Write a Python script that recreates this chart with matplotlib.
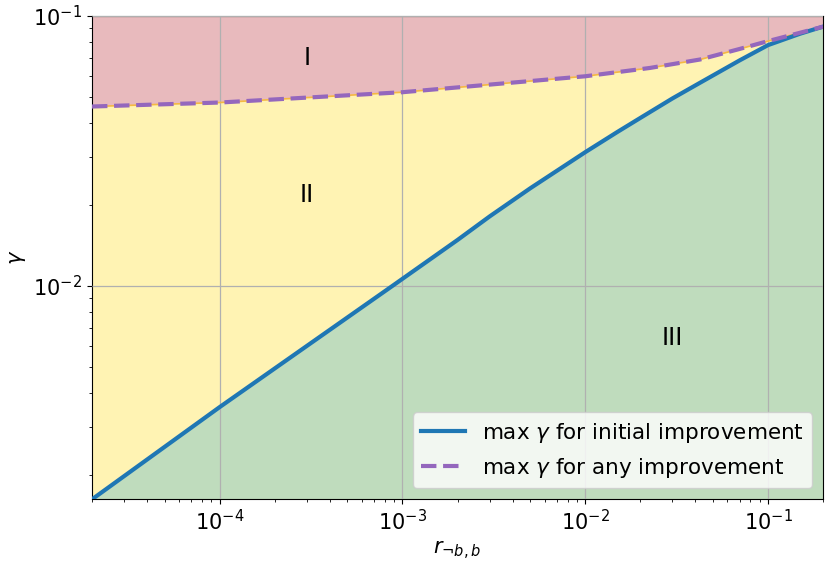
import matplotlib
matplotlib.use("Agg")
import matplotlib.pyplot as plt
import numpy as np

# Values
r_blue = [2e-5, 1e-4, 8.8e-4, 2e-3, 3e-3, 5e-3, 1e-2, 1.5e-2, 2e-2, 3e-2, 4.25e-2, 7e-2, 1e-1, 1.5e-1, 2e-1]
g_blue = [1.62e-3, 3.56e-3, 1.0e-2, 1.48e-2, 1.81e-2, 2.30e-2, 3.13e-2, 3.72e-2, 4.19e-2, 4.95e-2,
          5.66e-2, 6.85e-2, 7.8e-2, 8.6e-2, 9.13e-2]

r_purple = [2e-5, 1e-4, 1e-3, 1e-2, 2.26e-2, 4.25e-2, 7e-2, 1e-1, 1.5e-1, 2e-1]
g_purple = [4.62e-2, 4.78e-2, 5.22e-2, 5.98e-2, 6.42e-2, 6.9e-2, 7.55e-2, 8.07e-2, 8.67e-2, 9.13e-2]

region_labels = ["I", "II", "III"]
region_x = [3e-4, 3e-4, 3e-2]
region_y = [7e-2, 2.17e-2, 6.4e-3]

legend_labels = [r"max $\gamma$ for initial improvement", r"max $\gamma$ for any improvement"]

x_lim = (2e-5, 2e-1)
y_lim = (1.625e-3, 1e-1)

fig = plt.figure(figsize=(8.31, 5.63), dpi=100)
ax = fig.add_axes([0.1107, 0.1137, 0.8797, 0.8579])
ax.set_xscale("log")
ax.set_yscale("log")
ax.set_xlim(*x_lim)
ax.set_ylim(*y_lim)

rb = np.array(r_blue); gb = np.array(g_blue)
rp = np.array(r_purple); gp = np.array(g_purple)
gp_on_b = np.exp(np.interp(np.log(rb), np.log(rp), np.log(gp)))

ax.fill_between(rp, gp, y_lim[1], color="#e8babd", lw=0, zorder=1)
ax.fill_between(rb, gb, gp_on_b, color="#fff3b3", lw=0, zorder=1)
ax.fill_between(rb, y_lim[0], gb, color="#bfdcbd", lw=0, zorder=1)

ax.grid(True, which="major", color="#b0b0b0", lw=0.9, zorder=2)
ax.set_axisbelow(False)

ax.plot(rp, gp, color="#f5b942", lw=1.2, zorder=3)
ax.plot(rb, gb, color="tab:blue", lw=3, label=legend_labels[0], zorder=4)
ax.plot(rp, gp, color="tab:purple", lw=3, ls="--", label=legend_labels[1], zorder=5)

for t, xx, yy in zip(region_labels, region_x, region_y):
    ax.text(xx, yy, t, fontsize=17, ha="center", va="center", zorder=6)

ax.tick_params(axis="both", which="major", labelsize=15)
ax.set_xlabel(r"$r_{\neg b,b}$", fontsize=15)
ax.set_ylabel(r"$\gamma$", fontsize=15)

leg = ax.legend(loc="lower right", fontsize=15.5, framealpha=0.8)
leg.set_zorder(10)

fig.savefig("out.png", dpi=100)
